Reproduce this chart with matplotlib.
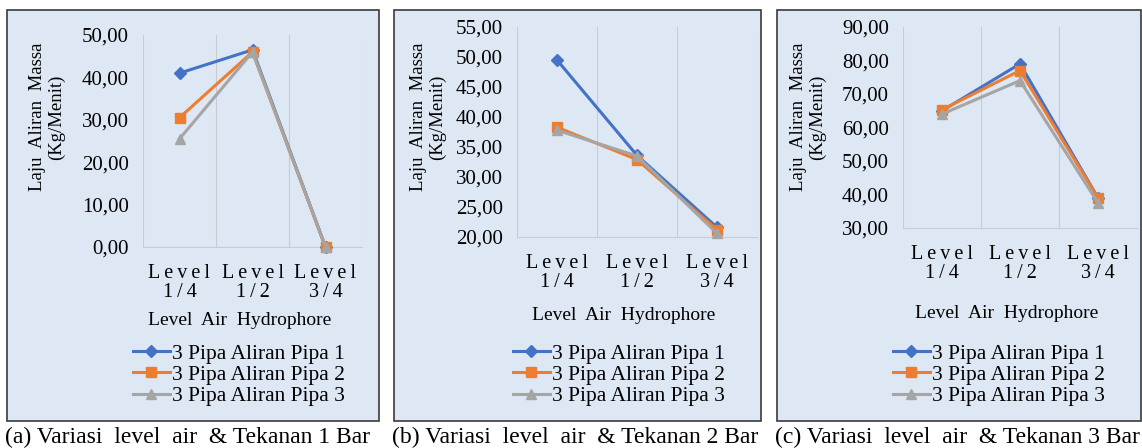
import matplotlib
matplotlib.use('Agg')
import matplotlib.pyplot as plt
from matplotlib.patches import Rectangle
from matplotlib.ticker import FuncFormatter

plt.rcParams['font.family'] = ['Liberation Serif', 'DejaVu Serif']

# data
levels = ['L\u2009e\u2009v\u2009e\u2009l\n1\u2009/\u20094',
          'L\u2009e\u2009v\u2009e\u2009l\n1\u2009/\u20092',
          'L\u2009e\u2009v\u2009e\u2009l\n3\u2009/\u20094']
series_names = ['3 Pipa Aliran Pipa 1', '3 Pipa Aliran Pipa 2', '3 Pipa Aliran Pipa 3']

bar1_pipa1 = [41.0, 46.5, 0.0]
bar1_pipa2 = [30.5, 46.0, 0.0]
bar1_pipa3 = [25.5, 46.0, 0.0]

bar2_pipa1 = [49.5, 33.6, 21.6]
bar2_pipa2 = [38.3, 32.9, 21.2]
bar2_pipa3 = [37.8, 33.5, 20.6]

bar3_pipa1 = [65.0, 79.0, 39.0]
bar3_pipa2 = [65.3, 77.0, 39.0]
bar3_pipa3 = [64.0, 74.0, 37.5]

captions = ['(a) Variasi  level  air  & Tekanan 1 Bar',
            '(b) Variasi  level  air  & Tekanan 2 Bar',
            '(c) Variasi  level  air  & Tekanan 3 Bar']

colors = ['#4472C4', '#ED7D31', '#A5A5A5']
markers = ['D', 's', '^']
msizes = [6, 7, 7]

W, H = 1142, 448
fig = plt.figure(figsize=(W / 100, H / 100), dpi=100)


def fx(px):
    return px / W


def fy(py):
    return 1 - py / H


panels = [
    dict(box=(7, 10, 379, 421), plot=(143, 35, 362, 247), ylim=(0, 50), step=10,
         data=[bar1_pipa1, bar1_pipa2, bar1_pipa3], leg=(133, 375), ylab=(47, 117), xlab=320),
    dict(box=(394, 10, 761, 421), plot=(517, 27, 757, 237), ylim=(20, 55), step=5,
         data=[bar2_pipa1, bar2_pipa2, bar2_pipa3], leg=(513, 375), ylab=(428, 117), xlab=315),
    dict(box=(777, 10, 1141, 421), plot=(903, 27, 1137, 228), ylim=(30, 90), step=10,
         data=[bar3_pipa1, bar3_pipa2, bar3_pipa3], leg=(893, 375), ylab=(808, 117), xlab=313),
]

for i, p in enumerate(panels):
    x0, y0, x1, y1 = p['box']
    fig.patches.append(Rectangle((fx(x0), fy(y1)), fx(x1 - x0), (y1 - y0) / H,
                                 transform=fig.transFigure, facecolor='#dde8f4',
                                 edgecolor='#3a3a3a', linewidth=1.2, zorder=-5))
    px0, py0, px1, py1 = p['plot']
    ax = fig.add_axes([fx(px0), fy(py1), fx(px1 - px0), (py1 - py0) / H])
    ax.set_facecolor('none')
    for j, vals in enumerate(p['data']):
        ax.plot(range(3), vals, color=colors[j], marker=markers[j], markersize=msizes[j],
                linewidth=2.2, label=series_names[j], zorder=3 + j, clip_on=False)
    lo, hi = p['ylim']
    ax.set_ylim(lo, hi)
    ax.set_xlim(-0.5, 2.5)
    ax.set_yticks(range(lo, hi + 1, p['step']))
    ax.yaxis.set_major_formatter(FuncFormatter(lambda v, pos: f'{v:.2f}'.replace('.', ',')))
    ax.set_xticks(range(3))
    ax.set_xticklabels(levels, fontsize=14.5, linespacing=1.05)
    ax.tick_params(axis='y', labelsize=15, length=0, pad=10)
    ax.tick_params(axis='x', length=0, pad=12)
    for s in ['top', 'right', 'left']:
        ax.spines[s].set_visible(False)
    ax.spines['bottom'].set_color('#c8ccd2')
    for xb in [-0.5, 0.5, 1.5, 2.5]:
        ax.axvline(xb, color='#c8ccd2', linewidth=0.8, zorder=1)

    fig.text(fx(p['ylab'][0]), fy(p['ylab'][1]), 'Laju  Aliran  Massa\n(Kg/Menit)',
             rotation=90, ha='center', va='center', fontsize=13.5, linespacing=1.2)
    fig.text(fx((px0 + px1) / 2 - 13), fy(p['xlab']), 'Level  Air  Hydrophore',
             ha='center', va='center', fontsize=14)

    ax.legend(loc='center left', bbox_to_anchor=(fx(p['leg'][0]), fy(p['leg'][1])),
              bbox_transform=fig.transFigure, frameon=False, fontsize=15.5,
              handlelength=1.7, handletextpad=0.1, labelspacing=0.05, borderpad=0,
              borderaxespad=0)

    fig.text(fx(x0 - 2), fy(437), captions[i], ha='left', va='center', fontsize=17)

fig.savefig('out.png', dpi=100, facecolor='white')
